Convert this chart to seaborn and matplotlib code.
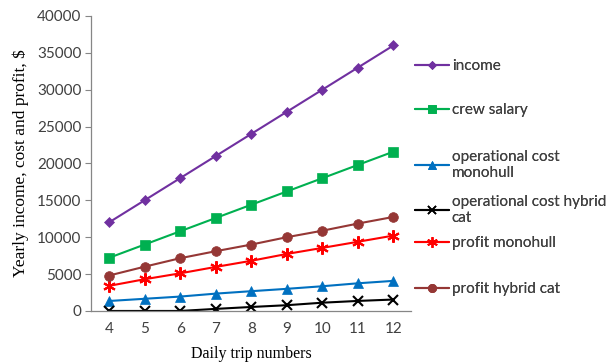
import numpy as np
import pandas as pd
import matplotlib
matplotlib.use("Agg")
import matplotlib.pyplot as plt
import seaborn as sns
from matplotlib.lines import Line2D

trips = [4, 5, 6, 7, 8, 9, 10, 11, 12]
income = [12000, 15000, 18000, 21000, 24000, 27000, 30000, 33000, 36000]
crew_salary = [7200, 9000, 10800, 12600, 14400, 16200, 18000, 19800, 21600]
op_cost_monohull = [1350, 1650, 1950, 2350, 2680, 3000, 3350, 3750, 4080]
op_cost_hybrid = [0, 0, 0, 280, 540, 780, 1120, 1360, 1550]
profit_monohull = [3400, 4300, 5100, 5970, 6800, 7730, 8550, 9380, 10220]
profit_hybrid = [4800, 6000, 7150, 8100, 9000, 10000, 10880, 11850, 12750]

series_names = ["income", "crew salary", "operational cost\nmonohull",
                "operational cost hybrid\ncat", "profit monohull", "profit hybrid cat"]
series_vals = [income, crew_salary, op_cost_monohull, op_cost_hybrid,
               profit_monohull, profit_hybrid]

colors = ["#7030A0", "#00B050", "#0070C0", "#000000", "#FF0000", "#953735"]
markers = ["D", "s", "^", "x", (6, 2, 0), "o"]
msizes = [5, 7, 6.5, 7, 9, 7]

rows = []
for name, vals in zip(series_names, series_vals):
    for t, v in zip(trips, vals):
        rows.append({"trips": t, "value": v, "series": name})
df = pd.DataFrame(rows)

sns.set_theme(style="white")
plt.rcParams["font.family"] = ["Lato", "DejaVu Sans"]
plt.rcParams["font.weight"] = "normal"

fig = plt.figure(figsize=(6.12, 3.62), dpi=100)
ax = fig.add_axes([0.149, 0.141, 0.523, 0.815])

for name, c, m, ms in zip(series_names, colors, markers, msizes):
    sub = df[df["series"] == name]
    sns.lineplot(data=sub, x="trips", y="value", ax=ax, color=c, marker=m,
                 markersize=ms, linewidth=1.5, markeredgecolor=c,
                 markeredgewidth=1.5 if m in ("x", (6, 2, 0)) else 0.5,
                 legend=False)

ax.set_xlim(3.5, 12.5)
ax.set_ylim(0, 40000)
ax.set_xticks(trips)
ax.set_yticks(np.arange(0, 40001, 5000))
ax.tick_params(axis="x", length=0, labelsize=11, pad=8)
ax.tick_params(axis="y", length=4, width=0.8, color="#868686", labelsize=11,
               pad=3, left=True)
for lbl in ax.get_yticklabels() + ax.get_xticklabels():
    lbl.set_color("#404040")
    lbl.set_fontweight("normal")
for s in ["top", "right"]:
    ax.spines[s].set_visible(False)
for s in ["left", "bottom"]:
    ax.spines[s].set_color("#868686")
    ax.spines[s].set_linewidth(0.9)
ax.grid(False)

ax.set_xlabel("Daily trip numbers", family="Liberation Serif", fontsize=11.5,
              labelpad=7, color="black")
ax.set_ylabel("Yearly income, cost and profit, $", family="Liberation Serif",
              fontsize=12.5, labelpad=6, color="black")

# legend entries, positioned like the original (pixel y of first text line)
ypix = [70, 114, 161, 206, 247, 293]
for name, c, m, ms, yp in zip(series_names, colors, markers, msizes, ypix):
    h = Line2D([], [], color=c, marker=m, markersize=ms * 0.85,
               markeredgecolor=c, linewidth=1.5,
               markeredgewidth=1.2 if m in ("x", (6, 2, 0)) else 0.5)
    leg = fig.legend(handles=[h], labels=[name], loc="upper left",
                     bbox_to_anchor=(415 / 612, 1 - (yp - 11) / 362),
                     frameon=False, fontsize=11, handlelength=2.2,
                     handletextpad=0.2, borderpad=0, borderaxespad=0,
                     labelcolor="#404040")
    for t in leg.get_texts():
        t.set_linespacing(1.2)
        t.set_fontweight("normal")
    fig.add_artist(leg)

fig.savefig("out.png", dpi=100)
